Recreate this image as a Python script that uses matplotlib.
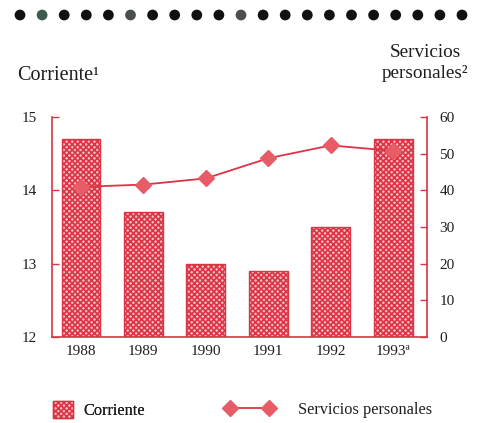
import matplotlib
matplotlib.use('Agg')
import matplotlib.pyplot as plt
from matplotlib.patches import Patch
from matplotlib.lines import Line2D
from matplotlib.legend_handler import HandlerLine2D
import numpy as np

# data
years = ['1988', '1989', '1990', '1991', '1992', '1993ª']
corriente = [14.7, 13.7, 13.0, 12.9, 13.5, 14.7]        # left axis
servicios = [41.0, 41.6, 43.3, 48.8, 52.3, 50.8]        # right axis
corr_ticks = [12, 13, 14, 15]
serv_ticks = [0, 10, 20, 30, 40, 50, 60]

# decorative dot row at the top (a few came out greyish in the scan)
dot_colors = ['#111111', '#3d5a4c', '#111111', '#111111', '#111111', '#4a4f4c',
              '#111111', '#111111', '#111111', '#111111', '#4a4f4c', '#111111',
              '#111111', '#111111', '#111111', '#111111', '#111111', '#111111',
              '#111111', '#111111', '#111111']

red = '#dc3444'
pink = '#f5bcc3'
marker_red = '#e85c68'
txt = '#1e1e1e'

plt.rcParams['font.family'] = ['Liberation Serif', 'DejaVu Serif']
plt.rcParams['hatch.linewidth'] = 1.2

fig = plt.figure(figsize=(4.83, 4.23), dpi=100)

# dot row
dax = fig.add_axes([0, 0.9345, 1, 0.06])
dax.set_axis_off()
dax.set_xlim(0, 483)
dax.set_ylim(0, 1)
dax.scatter(20 + np.arange(len(dot_colors)) * 22.1, [0.5] * len(dot_colors),
            s=60, c=dot_colors, linewidths=0)

ax = fig.add_axes([0.108, 0.203, 0.776, 0.52])
x = np.arange(len(years))
ax.bar(x, np.array(corriente) - 12, bottom=12, width=0.62,
       facecolor=pink, edgecolor=red, hatch='xxxxxx', linewidth=1.0, zorder=2)
ax.set_xlim(-0.46, 5.54)
ax.set_ylim(12, 15)
ax.set_yticks(corr_ticks)
ax.set_xticks(x, years)
ax.tick_params(axis='y', direction='in', length=5, color=red, width=1,
               labelsize=11, labelcolor=txt, pad=11)
ax.tick_params(axis='x', length=0, labelsize=11, labelcolor=txt, pad=6)
for s in ['top', 'right']:
    ax.spines[s].set_visible(False)
for s in ['left', 'bottom']:
    ax.spines[s].set_color(red)
    ax.spines[s].set_linewidth(1.2)

ax2 = ax.twinx()
ax2.plot(x, servicios, color=red, lw=1.3, marker='D', ms=8.5,
         mfc=marker_red, mec=marker_red, zorder=3)
ax2.set_ylim(0, 60)
ax2.set_yticks(serv_ticks)
ax2.tick_params(axis='y', direction='in', length=5, color=red, width=1,
                labelsize=11, labelcolor=txt, pad=9)
for s in ['top', 'left', 'bottom']:
    ax2.spines[s].set_visible(False)
ax2.spines['right'].set_color(red)
ax2.spines['right'].set_linewidth(1.2)

fig.text(17 / 483, 1 - 76 / 423, 'Corriente¹', ha='left', va='center',
         fontsize=14.5, color=txt)
fig.text(425 / 483, 1 - 63 / 423, 'Servicios\npersonales²', ha='center',
         va='center', multialignment='center', fontsize=13.8, color=txt,
         linespacing=1.25)

# legends
h1 = Patch(facecolor=pink, edgecolor=red, hatch='xxxxxx', linewidth=1.0)
leg1 = fig.legend([h1], ['Corriente'], loc='center left',
                  bbox_to_anchor=(53 / 483, 1 - 410 / 423), frameon=False,
                  borderpad=0, borderaxespad=0, handlelength=1.25,
                  handleheight=1.25, handletextpad=0.6, fontsize=11.8,
                  labelcolor=txt)
h2 = Line2D([], [], color=red, lw=1.3, marker='D', ms=8.5,
            mfc=marker_red, mec=marker_red)
leg2 = fig.legend([h2], ['Servicios personales'], loc='center left',
                  bbox_to_anchor=(210 / 483, 1 - 410 / 423), frameon=False,
                  borderpad=0, borderaxespad=0, handlelength=4.8,
                  handletextpad=0.6, fontsize=11.8, labelcolor=txt,
                  numpoints=2, handler_map={h2: HandlerLine2D(marker_pad=1.2)})
fig.add_artist(leg1)

fig.savefig('out.png', dpi=100)
